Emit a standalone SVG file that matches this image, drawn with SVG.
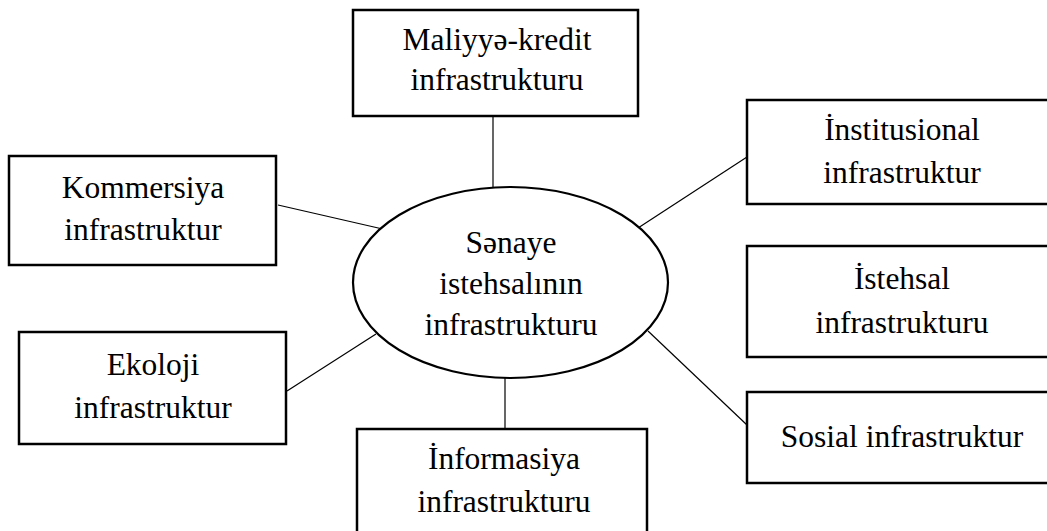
<svg xmlns="http://www.w3.org/2000/svg" width="1047" height="531" viewBox="0 0 1047 531">
<style>
.box{fill:#fff;stroke:#000;stroke-width:2.5}
.ell{fill:#fff;stroke:#000;stroke-width:2.2}
.con line{stroke:#000;stroke-width:1.2}
text{font-family:"Liberation Serif","Times New Roman",serif;font-size:31.5px;fill:#000;text-anchor:middle}
</style>
<rect width="1047" height="531" fill="#fff"/>
<g id="connectors" class="con">
<line x1="493" y1="116" x2="493" y2="187"/>
<line x1="278" y1="205" x2="387" y2="230"/>
<line x1="747" y1="157" x2="638" y2="228"/>
<line x1="287" y1="391" x2="376" y2="334"/>
<line x1="505" y1="378" x2="505" y2="429"/>
<line x1="747" y1="425" x2="648" y2="331"/>
</g>
<g id="center">
<ellipse class="ell" cx="510.5" cy="282.5" rx="157.5" ry="95.5"/>
<text x="511" y="253">Sənaye</text>
<text x="511" y="294">istehsalının</text>
<text x="511" y="335">infrastrukturu</text>
</g>
<g id="maliyye">
<rect class="box" x="353" y="10" width="285" height="106"/>
<text x="497" y="50">Maliyyə-kredit</text>
<text x="497" y="90">infrastrukturu</text>
</g>
<g id="kommersiya">
<rect class="box" x="9" y="156" width="267" height="109"/>
<text x="143" y="198">Kommersiya</text>
<text x="143" y="240">infrastruktur</text>
</g>
<g id="institusional">
<rect class="box" x="747" y="100" width="310" height="104"/>
<text x="902" y="140">İnstitusional</text>
<text x="902" y="183">infrastruktur</text>
</g>
<g id="istehsal">
<rect class="box" x="747" y="246" width="310" height="111"/>
<text x="902" y="289">İstehsal</text>
<text x="902" y="333">infrastrukturu</text>
</g>
<g id="ekoloji">
<rect class="box" x="19" y="332" width="267" height="112"/>
<text x="153" y="375">Ekoloji</text>
<text x="153" y="418">infrastruktur</text>
</g>
<g id="informasiya">
<rect class="box" x="357" y="429" width="290" height="110"/>
<text x="504" y="469">İnformasiya</text>
<text x="504" y="512">infrastrukturu</text>
</g>
<g id="sosial">
<rect class="box" x="747" y="392" width="310" height="91"/>
<text x="902" y="447">Sosial infrastruktur</text>
</g>
</svg>
